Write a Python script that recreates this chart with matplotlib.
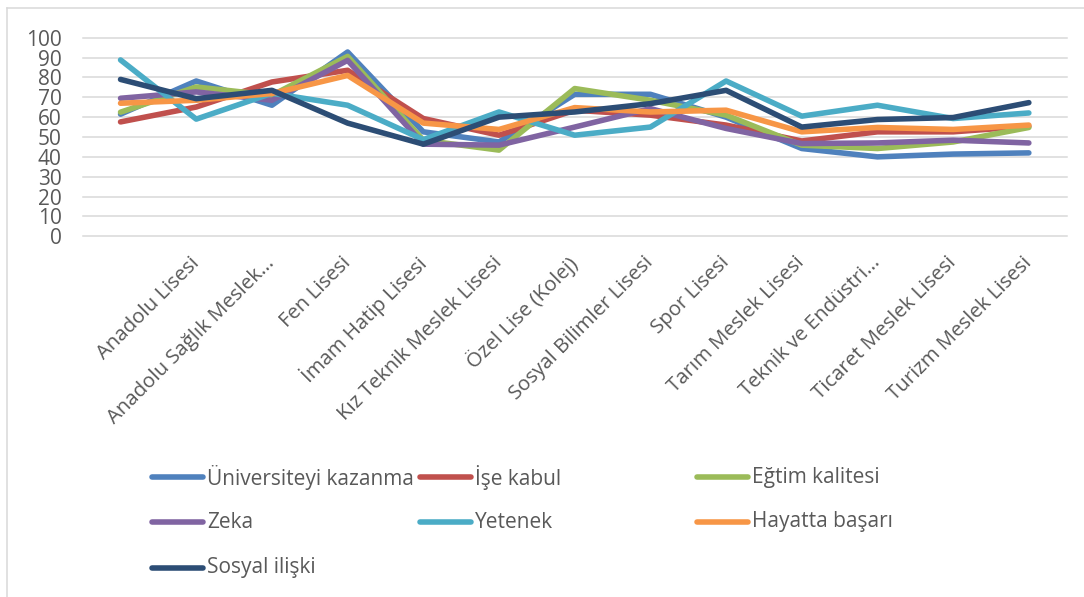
import matplotlib
matplotlib.use("Agg")
import matplotlib.pyplot as plt
from matplotlib.lines import Line2D

plt.rcParams['font.family'] = ['Open Sans', 'DejaVu Sans']

categories = ["", "Anadolu Lisesi", "Anadolu Sağlık Meslek...", "Fen Lisesi",
              "İmam Hatip Lisesi", "Kız Teknik Meslek Lisesi", "Özel Lise (Kolej)",
              "Sosyal Bilimler Lisesi", "Spor Lisesi", "Tarım Meslek Lisesi",
              "Teknik ve Endüstri...", "Ticaret Meslek Lisesi", "Turizm Meslek Lisesi"]

universiteyi_kazanma = [61.5, 78.2, 66.0, 92.8, 52.6, 47.5, 71.5, 71.5, 60.0, 44.2, 40.0, 41.4, 42.0]
ise_kabul            = [57.6, 65.1, 77.7, 83.6, 59.3, 50.9, 63.5, 61.0, 56.0, 48.0, 52.6, 52.6, 55.4]
egitim_kalitesi      = [62.5, 75.2, 71.0, 90.6, 48.4, 43.4, 74.4, 68.5, 61.0, 45.9, 44.2, 47.5, 54.8]
zeka                 = [69.5, 72.7, 68.5, 88.6, 46.4, 45.9, 55.0, 64.3, 54.3, 46.7, 47.0, 48.4, 47.0]
yetenek              = [88.8, 59.0, 72.0, 66.0, 48.7, 62.6, 50.9, 55.0, 78.2, 60.5, 66.0, 59.3, 62.1]
hayatta_basari       = [67.0, 68.5, 71.9, 81.0, 57.0, 53.8, 64.8, 62.6, 63.5, 52.6, 54.8, 53.8, 56.0]
sosyal_iliski        = [79.0, 69.3, 73.5, 57.0, 46.4, 60.0, 62.6, 66.8, 73.5, 55.0, 58.8, 59.8, 67.3]

series_names = ["Üniversiteyi kazanma", "İşe kabul", "Eğtim kalitesi", "Zeka",
                "Yetenek", "Hayatta başarı", "Sosyal ilişki"]
series_values = [universiteyi_kazanma, ise_kabul, egitim_kalitesi, zeka,
                 yetenek, hayatta_basari, sosyal_iliski]
colors = ["#4F81BD", "#C0504D", "#9BBB59", "#8064A2", "#4BACC6", "#F79646", "#2C4D75"]

yticks = list(range(0, 101, 10))

W, H = 1084, 597
fig = plt.figure(figsize=(W / 100, H / 100), dpi=100)

def fx(px):
    return px / W

def fy(py):
    return 1 - py / H

left, right, top, bottom = 82.7, 1066.7, 37.7, 236.3
ax = fig.add_axes([fx(left), fy(bottom), fx(right - left), (bottom - top) / H])

x = list(range(len(categories)))
for name, vals, c in zip(series_names, series_values, colors):
    ax.plot(x, vals, color=c, lw=4.0, solid_joinstyle='round',
            solid_capstyle='round', label=name, zorder=3)

ax.set_xlim(-0.5, len(categories) - 0.5)
ax.set_ylim(0, 100)
ax.set_yticks(yticks)
ax.set_yticklabels([str(v) for v in yticks])
ax.set_xticks(x)
ax.set_xticklabels(categories, rotation=45, ha='right', va='center',
                   rotation_mode='anchor')
ax.tick_params(axis='y', length=0, pad=15, labelsize=15, labelcolor='#595959')
ax.tick_params(axis='x', length=0, pad=17, labelsize=14.7, labelcolor='#595959')
for s in ax.spines.values():
    s.set_visible(False)
ax.yaxis.grid(True, color='#d9d9d9', lw=1.1)
ax.set_axisbelow(True)
for gl in ax.get_ygridlines():
    gl.set_clip_on(False)

# chart border (top and left visible)
fig.add_artist(Line2D([fx(7), fx(W + 5)], [fy(8), fy(8)], color='#d9d9d9', lw=1.1))
fig.add_artist(Line2D([fx(7), fx(7)], [fy(8), fy(H + 5)], color='#d9d9d9', lw=1.1))

# legend laid out like the original (3 equal columns)
col_x = [150, 418, 695]
row_y = [477, 522, 568]
for i, (name, c) in enumerate(zip(series_names, colors)):
    r, k = divmod(i, 3)
    x0 = col_x[k]
    y0 = row_y[r]
    fig.add_artist(Line2D([fx(x0 + 2), fx(x0 + 53)], [fy(y0), fy(y0)], color=c,
                          lw=4.0, solid_capstyle='round'))
    fig.text(fx(x0 + 57), fy(y0), name, ha='left', va='center',
             fontsize=15, color='#595959')

fig.savefig("out.png", dpi=100)
